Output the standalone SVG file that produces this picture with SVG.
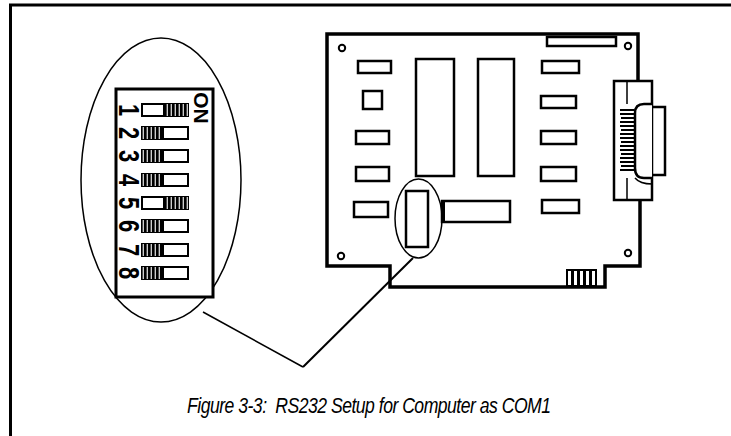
<svg xmlns="http://www.w3.org/2000/svg" width="731" height="436" viewBox="0 0 731 436">
<style>
.thick{fill:none;stroke:#000;stroke-width:3.5}
.part{fill:#fff;stroke:#000;stroke-width:2.5}
.thin{fill:none;stroke:#000;stroke-width:1.5}
.hole{fill:#fff;stroke:#000;stroke-width:2}
.sw{fill:#fff;stroke:#000;stroke-width:2}
.dig{font-family:"Liberation Sans",Arial,sans-serif;font-weight:bold;fill:#000}
.cap{font-family:"Liberation Sans",Arial,sans-serif;font-style:italic;font-size:22px;fill:#000}
</style>
<defs>
<pattern id="hatch" x="0" y="0" width="4" height="4" patternUnits="userSpaceOnUse">
<rect width="4" height="4" fill="#000"/>
<rect x="2.7" width="1.1" height="4" fill="#fff"/>
</pattern>
</defs>
<rect width="731" height="436" fill="#fff"/>
<g id="frame">
<path d="M10.5,436 V5 H731" fill="none" stroke="#000" stroke-width="3"/>
</g>
<g id="board">
<path class="thick" d="M638,81 V34 H327 V266 H390 V287 H605 V266 H640 V200"/>
<rect class="part" x="547" y="37" width="69" height="9"/>
<circle class="hole" cx="342" cy="48" r="3.2"/>
<circle class="hole" cx="628" cy="46" r="3.2"/>
<circle class="hole" cx="341" cy="256" r="3.2"/>
<circle class="hole" cx="628" cy="253" r="3.2"/>
<rect class="part" x="358" y="61" width="33" height="12"/>
<rect class="part" x="363" y="91" width="19" height="18"/>
<rect class="part" x="356" y="131" width="33" height="13"/>
<rect class="part" x="356" y="167" width="33" height="14"/>
<rect class="part" x="354" y="202" width="34" height="15"/>
<rect class="part" x="416" y="59" width="38" height="117"/>
<rect class="part" x="478" y="59" width="36" height="117"/>
<rect class="part" x="542" y="61" width="37" height="12"/>
<rect class="part" x="541" y="96" width="35" height="12"/>
<rect class="part" x="541" y="131" width="35" height="13"/>
<rect class="part" x="541" y="167" width="35" height="14"/>
<rect class="part" x="542" y="200" width="37" height="13"/>
<rect class="part" x="406" y="191" width="22" height="56"/>
<rect class="part" x="442" y="201" width="68" height="21"/>
<rect x="441" y="200" width="4" height="23" fill="#000"/>
<g id="edge-pins">
<rect class="sw" x="567" y="270" width="5" height="16"/>
<rect class="sw" x="573" y="270" width="5" height="16"/>
<rect class="sw" x="579" y="270" width="5" height="16"/>
<rect class="sw" x="585" y="270" width="5" height="16"/>
<rect class="sw" x="591" y="270" width="5" height="16"/>
</g>
</g>
<g id="serial-connector">
<rect class="part" x="614" y="81" width="38" height="119"/>
<rect class="part" x="652" y="107" width="13" height="68"/>
<path class="part" d="M652,104 H644 Q635,104 635,113 V168 Q635,178 644,178 H652"/>
<path class="thin" d="M627,81 V104 M627,178 V200 M635,178 Q640,184 652,184"/>
<path d="M620,110 H634 M620,114 H634 M621,118 H634 M620,122 H634 M620,126 H634 M621,130 H634 M620,134 H634 M620,138 H634 M621,142 H634 M620,146 H634 M620,150 H634 M621,154 H634 M620,158 H634 M620,162 H634 M621,166 H634 M620,170 H634" stroke="#000" stroke-width="1.8"/>
</g>
<g id="zoom-ellipse-small">
<ellipse class="thin" cx="418.5" cy="218.5" rx="23.5" ry="39.5"/>
</g>
<g id="zoom-ellipse-large">
<ellipse class="thin" cx="161" cy="180" rx="80" ry="142"/>
</g>
<g id="dip-switch">
<rect x="116" y="89" width="97" height="208" fill="#fff" stroke="#000" stroke-width="3"/>
<text class="dig" font-size="21" transform="translate(201,108) rotate(90)" text-anchor="middle" dominant-baseline="central">ON</text>
<g id="sw1"><rect class="sw" x="142" y="104" width="46" height="12"/><rect x="163" y="104" width="25" height="12" fill="url(#hatch)"/><rect x="163" y="104" width="3" height="12" fill="#000"/>
<text class="dig" font-size="22" transform="translate(129,110) rotate(90) scale(1,1.35)" text-anchor="middle" dominant-baseline="central">1</text></g>
<g id="sw2"><rect class="sw" x="142" y="127" width="46" height="12"/><rect x="142" y="127" width="21" height="12" fill="url(#hatch)"/><rect x="161" y="127" width="3" height="12" fill="#000"/>
<text class="dig" font-size="22" transform="translate(129,133) rotate(90) scale(1,1.35)" text-anchor="middle" dominant-baseline="central">2</text></g>
<g id="sw3"><rect class="sw" x="142" y="150" width="46" height="12"/><rect x="142" y="150" width="21" height="12" fill="url(#hatch)"/><rect x="161" y="150" width="3" height="12" fill="#000"/>
<text class="dig" font-size="22" transform="translate(129,156) rotate(90) scale(1,1.35)" text-anchor="middle" dominant-baseline="central">3</text></g>
<g id="sw4"><rect class="sw" x="142" y="174" width="46" height="12"/><rect x="142" y="174" width="21" height="12" fill="url(#hatch)"/><rect x="161" y="174" width="3" height="12" fill="#000"/>
<text class="dig" font-size="22" transform="translate(129,180) rotate(90) scale(1,1.35)" text-anchor="middle" dominant-baseline="central">4</text></g>
<g id="sw5"><rect class="sw" x="142" y="197" width="46" height="12"/><rect x="163" y="197" width="25" height="12" fill="url(#hatch)"/><rect x="163" y="197" width="3" height="12" fill="#000"/>
<text class="dig" font-size="22" transform="translate(129,203) rotate(90) scale(1,1.35)" text-anchor="middle" dominant-baseline="central">5</text></g>
<g id="sw6"><rect class="sw" x="142" y="220" width="46" height="12"/><rect x="142" y="220" width="21" height="12" fill="url(#hatch)"/><rect x="161" y="220" width="3" height="12" fill="#000"/>
<text class="dig" font-size="22" transform="translate(129,226) rotate(90) scale(1,1.35)" text-anchor="middle" dominant-baseline="central">6</text></g>
<g id="sw7"><rect class="sw" x="142" y="244" width="46" height="12"/><rect x="142" y="244" width="21" height="12" fill="url(#hatch)"/><rect x="161" y="244" width="3" height="12" fill="#000"/>
<text class="dig" font-size="22" transform="translate(129,250) rotate(90) scale(1,1.35)" text-anchor="middle" dominant-baseline="central">7</text></g>
<g id="sw8"><rect class="sw" x="142" y="267" width="46" height="12"/><rect x="142" y="267" width="21" height="12" fill="url(#hatch)"/><rect x="161" y="267" width="3" height="12" fill="#000"/>
<text class="dig" font-size="22" transform="translate(129,273) rotate(90) scale(1,1.35)" text-anchor="middle" dominant-baseline="central">8</text></g>
</g>
<g id="connectors">
<path d="M203,312 L303,367" fill="none" stroke="#000" stroke-width="1.5"/>
<path d="M303,367 L413,258" fill="none" stroke="#000" stroke-width="2"/>
</g>
<g id="caption">
<text class="cap" transform="translate(187,413) scale(0.8,1)" x="0" y="0" xml:space="preserve" textLength="455" lengthAdjust="spacing">Figure 3-3:  RS232 Setup for Computer as COM1</text>
</g>
</svg>
